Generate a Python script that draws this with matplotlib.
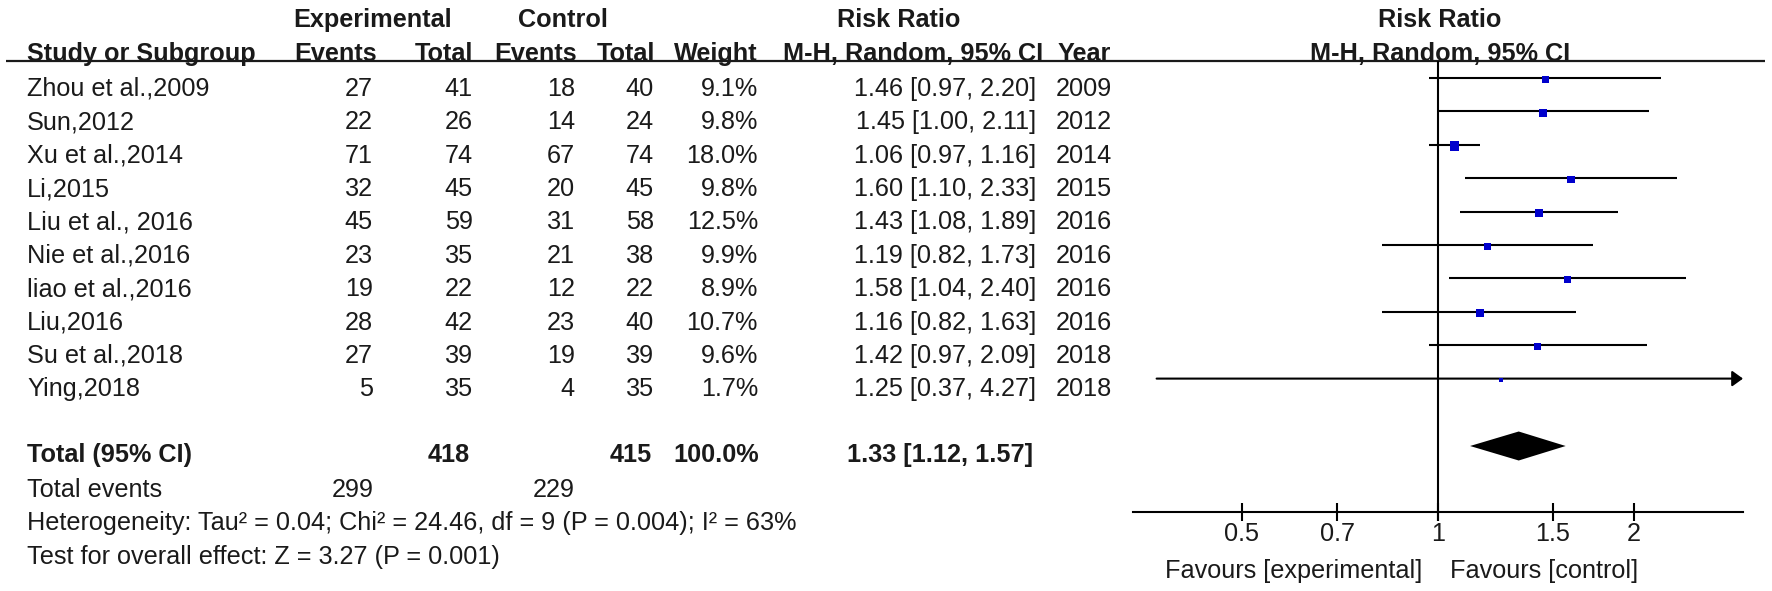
import numpy as np
import matplotlib
matplotlib.use("Agg")
import matplotlib.pyplot as plt

# Studies in the meta-analysis
studies = ["Zhou et al.,2009", "Sun,2012", "Xu et al.,2014", "Li,2015", "Liu et al., 2016",
           "Nie et al.,2016", "liao et al.,2016", "Liu,2016", "Su et al.,2018", "Ying,2018"]
exp_events = [27, 22, 71, 32, 45, 23, 19, 28, 27, 5]
exp_total = [41, 26, 74, 45, 59, 35, 22, 42, 39, 35]
ctrl_events = [18, 14, 67, 20, 31, 21, 12, 23, 19, 4]
ctrl_total = [40, 24, 74, 45, 58, 38, 22, 40, 39, 35]
weights = [9.1, 9.8, 18.0, 9.8, 12.5, 9.9, 8.9, 10.7, 9.6, 1.7]
rr = [1.46, 1.45, 1.06, 1.60, 1.43, 1.19, 1.58, 1.16, 1.42, 1.25]
ci_lo = [0.97, 1.00, 0.97, 1.10, 1.08, 0.82, 1.04, 0.82, 0.97, 0.37]
ci_hi = [2.20, 2.11, 1.16, 2.33, 1.89, 1.73, 2.40, 1.63, 2.09, 4.27]
years = [2009, 2012, 2014, 2015, 2016, 2016, 2016, 2016, 2018, 2018]

# pooled result
total_exp = 418
total_ctrl = 415
total_events_exp = 299
total_events_ctrl = 229
pooled_rr = 1.33
pooled_lo = 1.12
pooled_hi = 1.57
heterogeneity = "Heterogeneity: Tau² = 0.04; Chi² = 24.46, df = 9 (P = 0.004); I² = 63%"
overall = "Test for overall effect: Z = 3.27 (P = 0.001)"

xticks = [0.5, 0.7, 1, 1.5, 2]
xtick_labels = ["0.5", "0.7", "1", "1.5", "2"]

W, H = 1772, 591
FS = 18.2
TXT = "#1a1a1a"
plt.rcParams['font.family'] = ['Liberation Sans', 'DejaVu Sans']

fig = plt.figure(figsize=(W / 100, H / 100), dpi=100)

# text layer in pixel coordinates
ax = fig.add_axes([0, 0, 1, 1])
ax.set_xlim(0, W)
ax.set_ylim(H, 0)
ax.axis('off')

# forest layer: log x, pixel y
x_left, x_right = 1133, 1743
half = 1.0777
fx = fig.add_axes([x_left / W, 0, (x_right - x_left) / W, 1])
fx.set_xscale('log')
fx.set_xlim(np.exp(-half), np.exp(half))
fx.set_ylim(H, 0)
fx.patch.set_alpha(0)
for s in ['top', 'left', 'right']:
    fx.spines[s].set_visible(False)
fx.yaxis.set_visible(False)

row0, step = 87, 33.4
base = 8.8  # baseline offset from the text centre


def put(x, y, s, ha='right', bold=False):
    ax.text(x, y + base, s, ha=ha, va='baseline', fontsize=FS, color=TXT,
            fontweight='bold' if bold else 'normal')


# headers
put(373, 18, "Experimental", ha='center', bold=True)
put(563, 18, "Control", ha='center', bold=True)
put(899, 18, "Risk Ratio", ha='center', bold=True)
put(1440, 18, "Risk Ratio", ha='center', bold=True)
hy = 52
put(27, hy, "Study or Subgroup", ha='left', bold=True)
put(377, hy, "Events", bold=True)
put(473, hy, "Total", bold=True)
put(577, hy, "Events", bold=True)
put(655, hy, "Total", bold=True)
put(758, hy, "Weight", bold=True)
put(1043, hy, "M-H, Random, 95% CI", bold=True)
put(1058, hy, "Year", ha='left', bold=True)
put(1440, hy, "M-H, Random, 95% CI", ha='center', bold=True)
ax.hlines(61, 6, 1765, color=TXT, lw=1.6)

# study rows
for i, name in enumerate(studies):
    y = row0 + i * step
    put(27, y, name, ha='left')
    put(373, y, str(exp_events[i]))
    put(473, y, str(exp_total[i]))
    put(575, y, str(ctrl_events[i]))
    put(654, y, str(ctrl_total[i]))
    put(758, y, f"{weights[i]:.1f}%")
    put(1036, y, f"{rr[i]:.2f} [{ci_lo[i]:.2f}, {ci_hi[i]:.2f}]")
    put(1112, y, str(years[i]))

# totals
ty = 453
put(27, ty, "Total (95% CI)", ha='left', bold=True)
put(470, ty, str(total_exp), bold=True)
put(652, ty, str(total_ctrl), bold=True)
put(759, ty, "100.0%", bold=True)
put(1033, ty, f"{pooled_rr:.2f} [{pooled_lo:.2f}, {pooled_hi:.2f}]", bold=True)
put(27, 488, "Total events", ha='left')
put(374, 488, str(total_events_exp))
put(575, 488, str(total_events_ctrl))
put(27, 521, heterogeneity, ha='left')
put(27, 555, overall, ha='left')

# forest plot
line_y = np.array([row0 - 9 + i * step for i in range(len(studies))])
xmax = fx.get_xlim()[1]
for i in range(len(studies)):
    if ci_hi[i] > xmax:
        fx.annotate('', xy=(xmax, line_y[i]), xytext=(ci_lo[i], line_y[i]),
                    arrowprops=dict(arrowstyle='-|>,head_length=0.65,head_width=0.47',
                                    color='black', lw=1.5, mutation_scale=10,
                                    shrinkA=0, shrinkB=0))
    else:
        fx.hlines(line_y[i], ci_lo[i], ci_hi[i], color='black', lw=1.5)

# square side grows with the study weight (px -> pt at 100 dpi)
side_px = [max(2.1 * np.sqrt(w) + 0.8, 4.5) for w in weights]
fx.scatter(rr, line_y + 1.5, marker='s', s=[(p * 0.72) ** 2 for p in side_px],
           color='#0000cc', linewidths=0, zorder=3)

dy = ty - 7
fx.fill([pooled_lo, pooled_rr, pooled_hi, pooled_rr],
        [dy, dy - 14.5, dy, dy + 14.5], color='black', lw=0)
fx.vlines(1, 61, 521, color='black', lw=1.5)

# axis
axis_y = 512
fx.spines['bottom'].set_position(('data', axis_y))
fx.spines['bottom'].set_linewidth(1.5)
fx.set_xticks(xticks)
fx.set_xticklabels(xtick_labels)
fx.xaxis.set_minor_locator(matplotlib.ticker.NullLocator())
fx.tick_params(axis='x', direction='inout', length=12.5, width=1.5,
               labelsize=FS, labelcolor=TXT, pad=1)

put(1422, 569, "Favours [experimental]")
put(1450, 569, "Favours [control]", ha='left')

fig.savefig("out.png", dpi=100)
